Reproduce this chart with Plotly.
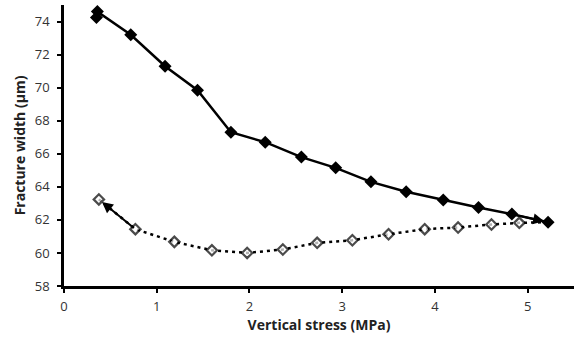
import plotly.graph_objects as go

# Loading path (solid, filled diamonds)
load_x = [0.35, 0.36, 0.72, 1.09, 1.44, 1.80, 2.17, 2.56, 2.93, 3.31, 3.69, 4.09, 4.47, 4.83, 5.22]
load_y = [74.25, 74.6, 73.2, 71.3, 69.85, 67.3, 66.7, 65.8, 65.15, 64.3, 63.7, 63.2, 62.75, 62.35, 61.86]

# Unloading path (dotted, hollow diamonds), from last loading point back
unload_x = [5.22, 4.91, 4.61, 4.25, 3.89, 3.50, 3.11, 2.73, 2.36, 1.975, 1.595, 1.19, 0.77, 0.376]
unload_y = [61.86, 61.82, 61.72, 61.54, 61.44, 61.13, 60.77, 60.61, 60.21, 60.0, 60.16, 60.67, 61.44, 63.24]

x_ticks = [0, 1, 2, 3, 4, 5]
y_ticks = [58, 60, 62, 64, 66, 68, 70, 72, 74]

FONT = "Open Sans"

fig = go.Figure()

fig.add_trace(go.Scatter(
    x=unload_x, y=unload_y, mode="lines+markers",
    line=dict(color="black", width=2.5, dash="3px,4px"),
    marker=dict(symbol="diamond", size=[0] + [8] * (len(unload_x) - 1),
                color="white", line=dict(color="black", width=2.2)),
    showlegend=False,
))

fig.add_trace(go.Scatter(
    x=load_x, y=load_y, mode="lines+markers",
    line=dict(color="black", width=2.5),
    marker=dict(symbol="diamond", size=10, color="black"),
    showlegend=False,
))

# arrowheads
fig.add_annotation(x=load_x[-1], y=load_y[-1], ax=load_x[-2], ay=load_y[-2],
                   xref="x", yref="y", axref="x", ayref="y", text="",
                   showarrow=True, arrowhead=2, arrowsize=1.1, arrowwidth=2,
                   arrowcolor="black", standoff=4)
fig.add_annotation(x=unload_x[-1], y=unload_y[-1], ax=unload_x[-2], ay=unload_y[-2],
                   xref="x", yref="y", axref="x", ayref="y", text="",
                   showarrow=True, arrowhead=2, arrowsize=1.1, arrowwidth=2,
                   arrowcolor="black", standoff=4)

fig.update_layout(
    width=574, height=341,
    margin=dict(l=64, r=0, t=5, b=55),
    paper_bgcolor="white", plot_bgcolor="white",
    font=dict(family=FONT, color="#222", size=12),
)
fig.update_xaxes(
    range=[0, 5.5], tickvals=x_ticks, ticktext=[str(v) for v in x_ticks],
    showgrid=False, zeroline=False, showline=True, linecolor="black", linewidth=2.5,
    ticks="outside", ticklen=4, tickwidth=2, tickcolor="black", ticklabelstandoff=3,
    title=dict(text="<b>Vertical stress (MPa)</b>", font=dict(family=FONT, size=14, color="#222"), standoff=5),
    tickfont=dict(family=FONT, size=13, color="#333"),
)
fig.update_yaxes(
    range=[58, 75], tickvals=y_ticks, ticktext=[str(v) for v in y_ticks],
    showgrid=False, zeroline=False, showline=True, linecolor="black", linewidth=2.5,
    ticks="outside", ticklen=4, tickwidth=2, tickcolor="black", ticklabelstandoff=5,
    title=dict(text="<b>Fracture width (µm)</b>", font=dict(family=FONT, size=14, color="#222"), standoff=6),
    tickfont=dict(family=FONT, size=13, color="#333"),
)

fig.write_html("out.html")
